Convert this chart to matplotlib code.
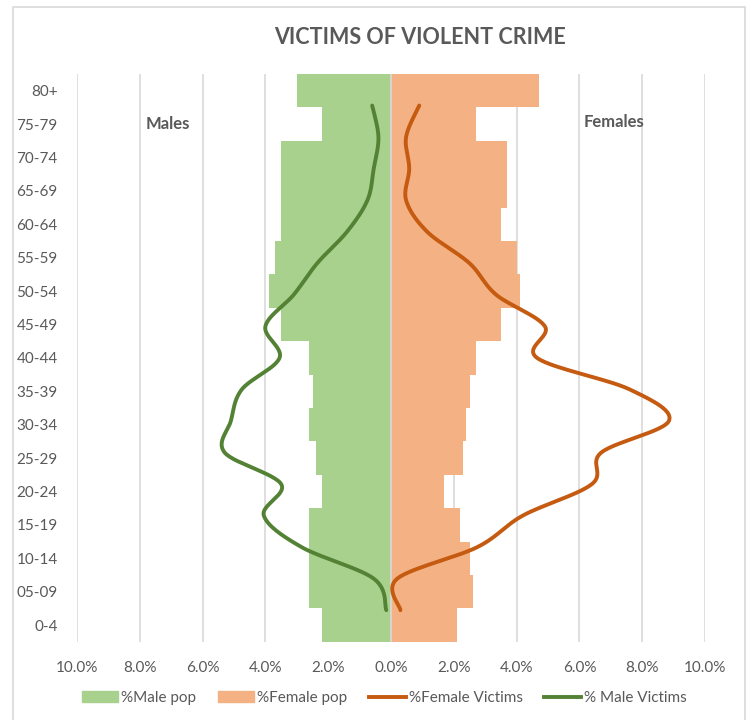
import numpy as np
import matplotlib
matplotlib.use("Agg")
import matplotlib.pyplot as plt
from matplotlib.ticker import FuncFormatter
from matplotlib.patches import Rectangle
from matplotlib.lines import Line2D

plt.rcParams['font.family'] = ['Lato', 'DejaVu Sans']

# age bands, bottom to top
ages = ["0-4", "05-09", "10-14", "15-19", "20-24", "25-29", "30-34", "35-39", "40-44",
        "45-49", "50-54", "55-59", "60-64", "65-69", "70-74", "75-79", "80+"]
male_pop = [2.2, 2.6, 2.6, 2.6, 2.2, 2.4, 2.6, 2.5, 2.6, 3.5, 3.9, 3.7, 3.5, 3.5, 3.5, 2.2, 3.0]
female_pop = [2.1, 2.6, 2.5, 2.2, 1.7, 2.3, 2.4, 2.5, 2.7, 3.5, 4.1, 4.0, 3.5, 3.7, 3.7, 2.7, 4.7]
male_victims = [0.15, 0.55, 2.85, 4.05, 3.5, 5.3, 5.1, 4.75, 3.55, 4.0, 3.1, 2.35, 1.4, 0.75, 0.55, 0.4, 0.6]
female_victims = [0.3, 0.2, 2.75, 4.2, 6.4, 6.7, 8.85, 7.6, 4.65, 4.9, 3.35, 2.5, 1.15, 0.48, 0.58, 0.48, 0.9]

GREEN = "#A9D18E"
ORANGE = "#F4B183"
DGREEN = "#548235"
DORANGE = "#C55A11"
GREY = "#595959"
GRID = "#D9D9D9"


def smooth(x, y, n=30):
    # bezier smoothing through the points, like excel's smoothed line
    p = np.column_stack([x, y]).astype(float)
    p = np.vstack([p[0], p, p[-1]])
    out = []
    t = np.linspace(0, 1, n)[:, None]
    for i in range(1, len(p) - 2):
        p0, p1, p2, p3 = p[i - 1], p[i], p[i + 1], p[i + 2]
        c1 = p1 + (p2 - p0) / 6.0
        c2 = p2 - (p3 - p1) / 6.0
        seg = ((1 - t) ** 3) * p1 + 3 * ((1 - t) ** 2) * t * c1 + 3 * (1 - t) * t ** 2 * c2 + t ** 3 * p2
        out.append(seg)
    out = np.vstack(out)
    return out[:, 0], out[:, 1]


fig = plt.figure(figsize=(7.5, 7.2), dpi=100)
ax = fig.add_axes([77 / 750, 1 - 641.7 / 720, 628 / 750, 567.7 / 720])

pos = np.arange(len(ages))
ax.barh(pos, -np.array(male_pop), height=1.0, color=GREEN, zorder=2)
ax.barh(pos, female_pop, height=1.0, color=ORANGE, zorder=2)
ax.axvline(0, color=GRID, lw=1.2, zorder=3)

ax.set_xlim(-10, 10)
ax.set_ylim(-0.5, len(ages) - 0.5)
ax.set_xticks(np.arange(-10, 11, 2))
ax.xaxis.set_major_formatter(FuncFormatter(lambda v, p: f"{abs(v):.1f}%"))
ax.set_yticks(pos)
ax.set_yticklabels(ages)
ax.grid(axis='x', color=GRID, lw=1.2, zorder=0)
ax.set_axisbelow(True)
ax.tick_params(axis='both', length=0, colors=GREY, labelsize=11)
ax.tick_params(axis='y', pad=14)
ax.tick_params(axis='x', pad=14)
for s in ax.spines.values():
    s.set_visible(False)

ax.text(-7.1, 15, "Males", color=GREY, fontsize=12, fontweight='bold', ha='center', va='center')
ax.text(7.1, 15.05, "Females", color=GREY, fontsize=12, fontweight='bold', ha='center', va='center')

# victims are on a secondary axis, points spread 1..17 out of 0..18
ax2 = ax.twinx()
ax2.set_ylim(0, len(ages) + 1)
lpos = np.arange(1, len(ages) + 1)
fx, fy = smooth(female_victims, lpos)
mx, my = smooth(-np.array(male_victims), lpos)
ax2.plot(fx, fy, color=DORANGE, lw=2.8, solid_capstyle='round', zorder=4)
ax2.plot(mx, my, color=DGREEN, lw=2.8, solid_capstyle='round', zorder=4)
ax2.set_yticks([])
for s in ax2.spines.values():
    s.set_visible(False)

fig.text(420 / 750, 1 - 37 / 720, "VICTIMS OF VIOLENT CRIME", color=GREY, fontsize=15.5,
         fontweight='bold', ha='center', va='center')

handles = [Rectangle((0, 0), 1, 1, color=GREEN), Rectangle((0, 0), 1, 1, color=ORANGE),
           Line2D([], [], color=DORANGE, lw=2.8), Line2D([], [], color=DGREEN, lw=2.8)]
names = ["%Male pop", "%Female pop", "%Female Victims", "% Male Victims"]
leg = fig.legend(handles, names, loc='center', bbox_to_anchor=(384 / 750, 1 - 698 / 720), ncol=4,
                 frameon=False, fontsize=11, handlelength=2.4, handletextpad=0.2,
                 columnspacing=1.4, labelcolor=GREY)

# chart border
fig.add_artist(Rectangle((13 / 750, -0.01), 732 / 750, 1 - 7 / 720 + 0.01, transform=fig.transFigure,
                         fill=False, edgecolor=GRID, lw=1.2))

fig.savefig("out.png", dpi=100)
